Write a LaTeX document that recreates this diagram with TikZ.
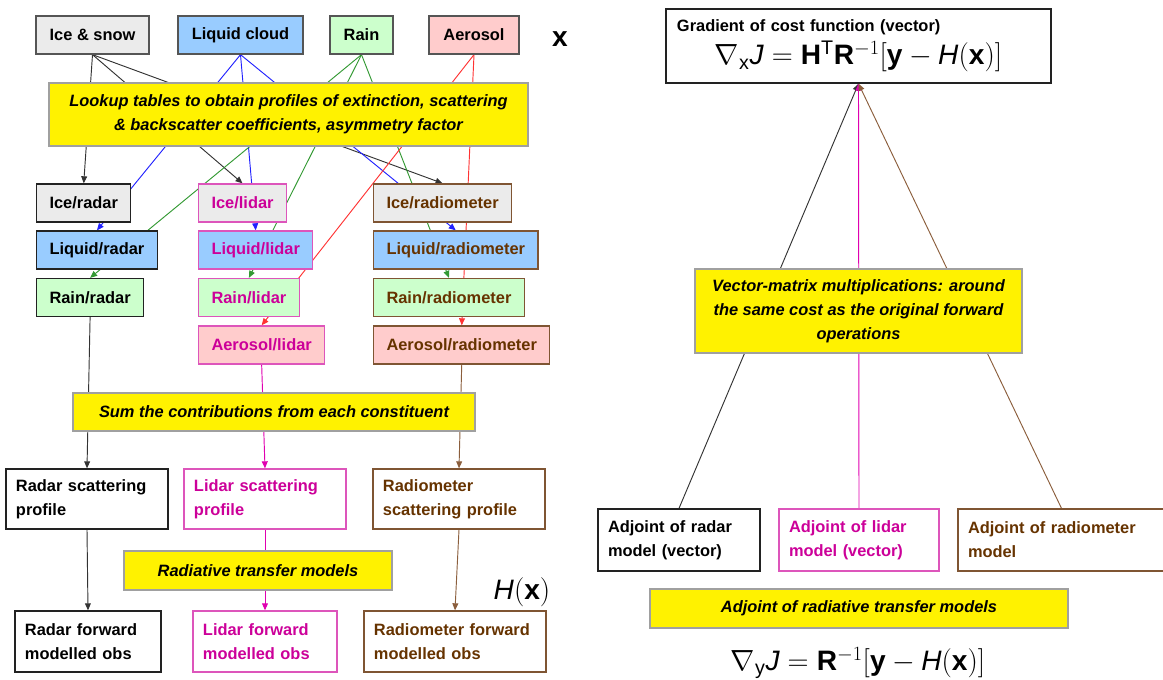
\documentclass[tikz,border=0pt]{standalone}
\usepackage{amsmath}
\usepackage{fontspec}
\setmainfont{Liberation Sans}
\usepackage{tikz}
\usetikzlibrary{arrows.meta,backgrounds}
\usepackage{xcolor}
\definecolor{iceFill}{HTML}{EBEBEB}
\definecolor{liqFill}{HTML}{99CCFF}
\definecolor{rainFill}{HTML}{CCFFCC}
\definecolor{aerFill}{HTML}{FFCCCC}
\definecolor{srcBorder}{HTML}{555555}
\definecolor{noteBorder}{HTML}{A0A0A0}
\definecolor{radBorder}{HTML}{222222}
\definecolor{lidBorder}{HTML}{DD55BB}
\definecolor{lidText}{HTML}{CC0099}
\definecolor{rmBorder}{HTML}{7F5533}
\definecolor{rmText}{HTML}{663300}
\definecolor{iceLine}{HTML}{333333}
\definecolor{liqLine}{HTML}{2222FF}
\definecolor{rainLine}{HTML}{339933}
\definecolor{aerLine}{HTML}{FF3333}
\definecolor{lidLine}{HTML}{E000B0}
\definecolor{rmLine}{HTML}{8B5E3C}
\tikzset{
    boxfont/.style={font=\fontsize{14}{20.5}\selectfont\bfseries},
    % constituent boxes on top
    src/.style={rectangle,draw=srcBorder,line width=1.1pt,minimum height=1.14cm,boxfont},
    % constituent/instrument boxes, left edge given
    part/.style={rectangle,line width=1.1pt,anchor=west,inner xsep=11pt,minimum height=1.14cm,boxfont},
    radar/.style={part,draw=radBorder,text=black},
    lidar/.style={part,draw=lidBorder,text=lidText},
    radiom/.style={part,draw=rmBorder,text=rmText},
    % yellow notes
    note/.style={rectangle,draw=noteBorder,fill=yellow,line width=1pt,align=center,font=\fontsize{14}{20.5}\selectfont\bfseries\itshape},
    % two-line output boxes
    outbox/.style={rectangle,line width=1.1pt,fill=white,align=left,inner xsep=0.3cm,boxfont},
    bigmath/.style={font=\fontsize{24}{28}\selectfont},
    conn/.style={-{Triangle[length=6pt,width=5pt]},line width=0.8pt}
}

\begin{document}
\begin{tikzpicture}[x=0.03cm,y=-0.03cm]
    \useasboundingbox (0,0) rectangle (1163,680);

    % Constituents
    \node[src,fill=iceFill,minimum width=3.39cm] (ice) at (92.5,35) {Ice \& snow};
    \node[src,fill=liqFill,minimum width=3.75cm] (liq) at (240.5,35) {Liquid cloud};
    \node[src,fill=rainFill,minimum width=1.89cm] (rain) at (361.5,35) {Rain};
    \node[src,fill=aerFill,minimum width=2.7cm] (aer) at (474,35) {Aerosol};
    \node[bigmath] (xvec) at (560,39) {$\mathbf{x}$};

    % Lookup tables
    \node[note,minimum width=14.37cm,minimum height=1.89cm] (lookup) at (288.5,114.5) {Lookup tables to obtain profiles of extinction, scattering\\\& backscatter coefficients, asymmetry factor};

    % Radar column
    \node[radar,fill=iceFill] (icerad) at (36,203) {Ice/radar};
    \node[radar,fill=liqFill] (liqrad) at (36,250) {Liquid/radar};
    \node[radar,fill=rainFill] (rainrad) at (36,297.5) {Rain/radar};

    % Lidar column
    \node[lidar,fill=iceFill] (icelid) at (198,203) {Ice/lidar};
    \node[lidar,fill=liqFill] (liqlid) at (198,250) {Liquid/lidar};
    \node[lidar,fill=rainFill] (rainlid) at (198,297.5) {Rain/lidar};
    \node[lidar,fill=aerFill] (aerlid) at (198,345) {Aerosol/lidar};

    % Radiometer column
    \node[radiom,fill=iceFill] (icerm) at (373,203) {Ice/radiometer};
    \node[radiom,fill=liqFill] (liqrm) at (373,250) {Liquid/radiometer};
    \node[radiom,fill=rainFill] (rainrm) at (373,297.5) {Rain/radiometer};
    \node[radiom,fill=aerFill] (aerrm) at (373,345) {Aerosol/radiometer};

    % Sum
    \node[note,minimum width=12.06cm,minimum height=1.14cm] (sum) at (274,412) {Sum the contributions from each constituent};

    % Scattering profiles
    \node[outbox,draw=radBorder,text width=4.26cm,minimum height=1.8cm] (radscat) at (87,499) {Radar scattering\\profile};
    \node[outbox,draw=lidBorder,text=lidText,text width=4.26cm,minimum height=1.8cm] (lidscat) at (265,499) {Lidar scattering\\profile};
    \node[outbox,draw=rmBorder,text=rmText,text width=4.56cm,minimum height=1.8cm] (rmscat) at (459,499) {Radiometer\\scattering profile};

    % Radiative transfer
    \node[note,minimum width=8.04cm,minimum height=1.17cm] (rtm) at (258,570.5) {Radiative transfer models};
    \node[bigmath] (hx) at (522,592) {$\mathit{H}(\mathbf{x})$};

    % Forward modelled obs
    \node[outbox,draw=radBorder,text width=3.78cm,minimum height=1.83cm] (radfwd) at (88,641.5) {Radar forward\\modelled obs};
    \node[outbox,draw=lidBorder,text=lidText,text width=3.72cm,minimum height=1.83cm] (lidfwd) at (265,641.5) {Lidar forward\\modelled obs};
    \node[outbox,draw=rmBorder,text=rmText,text width=4.86cm,minimum height=1.83cm] (rmfwd) at (455,641.5) {Radiometer forward\\modelled obs};

    % Adjoint side
    \node[outbox,draw=radBorder,text width=10.89cm,inner xsep=0.33cm,minimum height=2.22cm] (grad) at (858.5,46) {Gradient of cost function (vector)\par{\centering\fontsize{24}{28}\selectfont$\nabla_{\mathrm{x}}\mathit{J}=\mathbf{H}^{\mathrm{T}}\mathbf{R}^{-1}[\mathbf{y}-\mathit{H}(\mathbf{x})]$\par}};
    \node[note,minimum width=9.81cm,minimum height=2.52cm] (vmm) at (858.5,311) {Vector-matrix multiplications: around\\the same cost as the original forward\\operations};
    \node[outbox,draw=radBorder,text width=4.26cm,minimum height=1.86cm] (adjrad) at (679,540) {Adjoint of radar\\model (vector)};
    \node[outbox,draw=lidBorder,text=lidText,text width=4.2cm,minimum height=1.86cm] (adjlid) at (859,540) {Adjoint of lidar\\model (vector)};
    \node[outbox,draw=rmBorder,text=rmText,text width=5.61cm,minimum height=1.86cm] (adjrm) at (1061.5,540) {Adjoint of radiometer\\model};
    \node[note,minimum width=12.54cm,minimum height=1.17cm] (adjrt) at (859,608.5) {Adjoint of radiative transfer models};
    \node[bigmath] (grady) at (858,663) {$\nabla_{\mathrm{y}}\mathit{J}=\mathbf{R}^{-1}[\mathbf{y}-\mathit{H}(\mathbf{x})]$};

    % Arrows (behind the boxes)
    \begin{pgfonlayer}{background}
    \draw[conn,iceLine] (ice.south) -- (icerad.north);
    \draw[conn,iceLine] (ice.south) -- (icelid.north);
    \draw[conn,iceLine] (ice.south) -- (icerm.north);
    \draw[conn,liqLine] (liq.south) -- (liqrad.north);
    \draw[conn,liqLine] (liq.south) -- (liqlid.north);
    \draw[conn,liqLine] (liq.south) -- (liqrm.north);
    \draw[conn,rainLine] (rain.south) -- (rainrad.north);
    \draw[conn,rainLine] (rain.south) -- (rainlid.north);
    \draw[conn,rainLine] (rain.south) -- (rainrm.north);
    \draw[conn,aerLine] (aer.south) -- (aerlid.north);
    \draw[conn,aerLine] (aer.south) -- (aerrm.north);
    \draw[conn,iceLine] (rainrad.south) -- (radscat.north);
    \draw[conn,lidLine] (aerlid.south) -- (lidscat.north);
    \draw[conn,rmLine] (aerrm.south) -- (rmscat.north);
    \draw[conn,iceLine] (radscat.south) -- (radfwd.north);
    \draw[conn,lidLine] (lidscat.south) -- (lidfwd.north);
    \draw[conn,rmLine] (rmscat.south) -- (rmfwd.north);
    \draw[conn,iceLine] (adjrad.north) -- (grad.south);
    \draw[conn,lidLine] (adjlid.north) -- (grad.south);
    \draw[conn,rmLine] (adjrm.north) -- (grad.south);
    \end{pgfonlayer}
\end{tikzpicture}
\end{document}
